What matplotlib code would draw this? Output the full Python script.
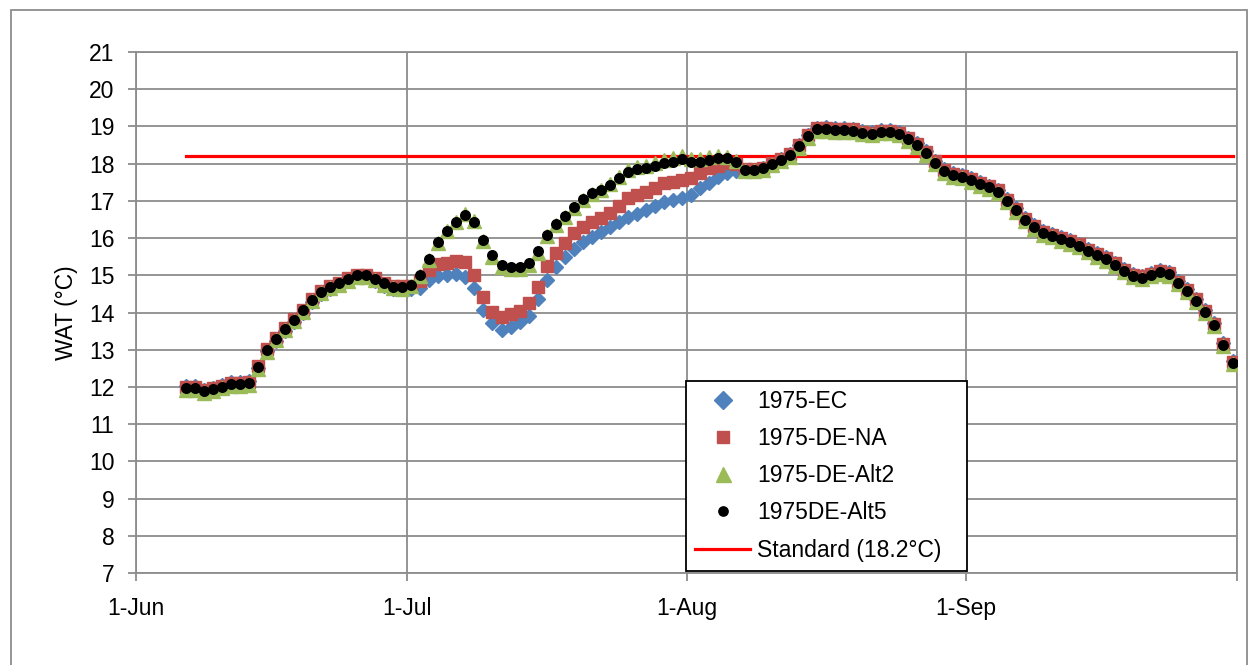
"""
Daily water temperature (WAT), June-September, four 1975 scenarios vs. 18.2 degC standard.
"""

import numpy as np
import pandas as pd
import matplotlib
matplotlib.use('Agg')
import matplotlib.pyplot as plt
from matplotlib.patches import Rectangle

plt.rcParams['font.family'] = ['Liberation Sans', 'DejaVu Sans']

# daily values, 6-Jun .. 30-Sep (plotted at mid-day)
start = '1975-06-06 12:00'

wat_alt5 = [
    11.98, 11.98, 11.89, 11.94, 12.00, 12.07, 12.07, 12.11, 12.53, 12.99,
    13.29, 13.56, 13.80, 14.06, 14.34, 14.56, 14.69, 14.78, 14.90, 15.00,
    15.00, 14.91, 14.78, 14.69, 14.68, 14.74, 15.00, 15.45, 15.90, 16.19,
    16.42, 16.62, 16.44, 15.95, 15.54, 15.28, 15.23, 15.23, 15.32, 15.64,
    16.09, 16.38, 16.59, 16.83, 17.05, 17.20, 17.29, 17.43, 17.61, 17.78,
    17.85, 17.89, 17.94, 18.01, 18.05, 18.12, 18.04, 18.05, 18.10, 18.14,
    18.14, 18.05, 17.83, 17.83, 17.87, 17.99, 18.10, 18.23, 18.47, 18.74,
    18.92, 18.93, 18.90, 18.90, 18.89, 18.83, 18.80, 18.86, 18.86, 18.80,
    18.65, 18.50, 18.28, 18.03, 17.80, 17.69, 17.65, 17.56, 17.45, 17.36,
    17.25, 17.00, 16.75, 16.49, 16.29, 16.13, 16.06, 15.97, 15.89, 15.80,
    15.66, 15.54, 15.43, 15.29, 15.12, 14.99, 14.94, 15.01, 15.08, 15.03,
    14.80, 14.58, 14.32, 14.02, 13.67, 13.13, 12.65,
]

wat_alt2 = [
    11.93, 11.93, 11.85, 11.90, 11.96, 12.02, 12.03, 12.06, 12.48, 12.95,
    13.25, 13.52, 13.76, 14.02, 14.30, 14.52, 14.65, 14.74, 14.86, 14.96,
    14.96, 14.87, 14.74, 14.65, 14.64, 14.70, 14.98, 15.42, 15.88, 16.18,
    16.42, 16.64, 16.46, 15.93, 15.50, 15.22, 15.18, 15.18, 15.28, 15.60,
    16.05, 16.34, 16.56, 16.80, 17.03, 17.19, 17.29, 17.45, 17.64, 17.82,
    17.90, 17.95, 18.01, 18.09, 18.14, 18.21, 18.13, 18.13, 18.18, 18.21,
    18.19, 18.07, 17.80, 17.79, 17.84, 17.96, 18.06, 18.19, 18.43, 18.70,
    18.88, 18.89, 18.86, 18.86, 18.85, 18.79, 18.76, 18.82, 18.82, 18.76,
    18.61, 18.46, 18.24, 17.99, 17.76, 17.65, 17.61, 17.52, 17.41, 17.32,
    17.21, 16.96, 16.71, 16.45, 16.25, 16.09, 16.02, 15.93, 15.85, 15.76,
    15.62, 15.50, 15.39, 15.25, 15.08, 14.95, 14.90, 14.97, 15.04, 14.99,
    14.76, 14.54, 14.28, 13.98, 13.63, 13.09, 12.61,
]

wat_de_na = [
    12.00, 12.00, 11.92, 11.97, 12.03, 12.10, 12.10, 12.14, 12.55, 13.01,
    13.31, 13.58, 13.82, 14.08, 14.36, 14.58, 14.71, 14.80, 14.92, 15.02,
    15.02, 14.93, 14.80, 14.71, 14.70, 14.72, 14.85, 15.14, 15.30, 15.34,
    15.38, 15.35, 15.00, 14.42, 14.02, 13.89, 13.96, 14.05, 14.26, 14.69,
    15.26, 15.59, 15.86, 16.13, 16.31, 16.44, 16.53, 16.68, 16.86, 17.07,
    17.16, 17.25, 17.34, 17.47, 17.51, 17.56, 17.61, 17.74, 17.87, 17.94,
    18.02, 17.98, 17.86, 17.85, 17.89, 18.01, 18.12, 18.25, 18.49, 18.76,
    18.95, 18.96, 18.93, 18.93, 18.92, 18.86, 18.83, 18.89, 18.89, 18.83,
    18.68, 18.53, 18.31, 18.06, 17.83, 17.72, 17.68, 17.59, 17.48, 17.39,
    17.28, 17.03, 16.78, 16.52, 16.32, 16.16, 16.09, 16.00, 15.92, 15.83,
    15.69, 15.57, 15.46, 15.32, 15.15, 15.02, 14.97, 15.04, 15.11, 15.06,
    14.83, 14.61, 14.35, 14.05, 13.70, 13.16, 12.68,
]

wat_ec = [
    12.02, 12.02, 11.93, 11.98, 12.05, 12.12, 12.12, 12.16, 12.52, 12.96,
    13.24, 13.50, 13.74, 14.00, 14.28, 14.50, 14.64, 14.74, 14.88, 14.97,
    14.95, 14.85, 14.72, 14.64, 14.62, 14.62, 14.65, 14.87, 14.98, 15.00,
    15.03, 14.96, 14.65, 14.07, 13.71, 13.53, 13.62, 13.75, 13.90, 14.36,
    14.87, 15.23, 15.50, 15.72, 15.90, 16.04, 16.17, 16.31, 16.44, 16.56,
    16.66, 16.75, 16.86, 16.98, 17.02, 17.07, 17.16, 17.34, 17.47, 17.65,
    17.75, 17.80, 17.82, 17.84, 17.88, 18.00, 18.12, 18.26, 18.50, 18.78,
    18.97, 18.98, 18.95, 18.95, 18.94, 18.88, 18.85, 18.91, 18.91, 18.85,
    18.70, 18.55, 18.33, 18.08, 17.85, 17.74, 17.70, 17.61, 17.50, 17.41,
    17.30, 17.05, 16.80, 16.54, 16.34, 16.18, 16.11, 16.02, 15.94, 15.85,
    15.71, 15.59, 15.48, 15.34, 15.17, 15.04, 14.99, 15.06, 15.13, 15.08,
    14.85, 14.63, 14.37, 14.07, 13.72, 13.18, 12.70,
]

standard = 18.2

month_ticks = ['1975-06-01', '1975-07-01', '1975-08-01', '1975-09-01', '1975-10-01']
month_labels = ['1-Jun', '1-Jul', '1-Aug', '1-Sep', '']

dates = pd.date_range(start, periods=len(wat_alt5), freq='D')

GRID = '#8c8c8c'
FS = 16.5

fig = plt.figure(figsize=(12.57, 6.65), dpi=100)
ax = fig.add_axes([0.1082, 0.1383, 0.8759, 0.7835])

ax.plot(dates, wat_ec, linestyle='none', marker='D', markersize=7.4,
        color='#4F81BD', label='1975-EC', zorder=3)
ax.plot(dates, wat_de_na, linestyle='none', marker='s', markersize=8.3,
        color='#C0504D', label='1975-DE-NA', zorder=4)
ax.plot(dates, wat_alt2, linestyle='none', marker='^', markersize=9.4,
        color='#9BBB59', label='1975-DE-Alt2', zorder=5)
ax.plot(dates, wat_alt5, linestyle='none', marker='o', markersize=6.9,
        color='black', label='1975DE-Alt5', zorder=6)
ax.plot(dates, [standard] * len(dates), color='#FF0000', linewidth=2.3,
        label='Standard (18.2\u00b0C)', zorder=2)

ax.set_xlim(pd.Timestamp(month_ticks[0]), pd.Timestamp(month_ticks[-1]))
ax.set_ylim(7, 21)
ax.set_yticks(range(7, 22))
ax.set_xticks([pd.Timestamp(d) for d in month_ticks])
ax.set_xticklabels(month_labels)

ax.grid(True, color=GRID, linewidth=1.3)
ax.set_axisbelow(True)
for s in ax.spines.values():
    s.set_color(GRID)
    s.set_linewidth(1.3)
ax.tick_params(axis='both', colors=GRID, labelcolor='black', labelsize=FS,
               length=5.5, width=1.3)
ax.tick_params(axis='y', pad=10)
ax.tick_params(axis='x', pad=12)
ax.set_ylabel('WAT (\u00b0C)', fontsize=FS, labelpad=8)

leg = ax.legend(loc='lower left', bbox_to_anchor=(0.4995, 0.0044, 0.2553, 0.3564),
                mode='expand', fontsize=FS, frameon=True, fancybox=False,
                edgecolor='black', framealpha=1, borderpad=0.4, labelspacing=0.62,
                handlelength=2.4, handletextpad=0.3, borderaxespad=0)
leg.get_frame().set_linewidth(1.3)
leg.set_zorder(10)
# legend keys are drawn a little larger than the plotted markers
for h, ms in zip(leg.legend_handles, [8.7, 9.1, 10.8, 6.7]):
    h.set_markersize(ms)

# outer chart border
fig.patches.append(Rectangle((0.0088, -0.01), 0.983, 0.995, transform=fig.transFigure,
                             fill=False, edgecolor='#8c8c8c', linewidth=1.3))

fig.savefig('out.png', dpi=100)
